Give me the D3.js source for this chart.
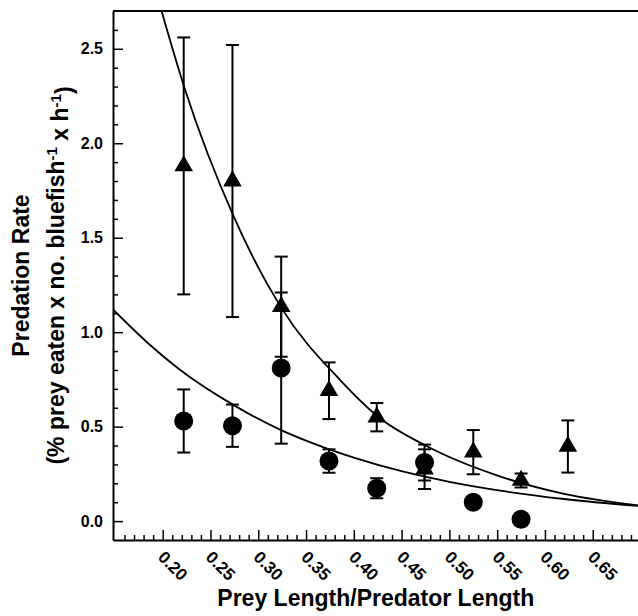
<!DOCTYPE html>
<html>
<head>
<meta charset="utf-8">
<script src="https://cdn.jsdelivr.net/npm/d3@7"></script>
<style>
body { margin: 0; background: #fff; }
text { font-family: "Liberation Sans", Arial, Helvetica, sans-serif; font-weight: bold; fill: #000; }
</style>
</head>
<body>
<div id="main"></div>
<script>
// Datos: razón de longitudes presa/depredador
var ratio = [0.222, 0.273, 0.324, 0.374, 0.424, 0.474, 0.525, 0.575, 0.624];

// Triángulos
var triRate = [1.88, 1.80, 1.135, 0.69, 0.55, 0.275, 0.365, 0.215, 0.395];
var triErr = [0.68, 0.72, 0.265, 0.15, 0.075, 0.105, 0.117, 0.037, 0.138];

// Círculos
var circRatio = [0.222, 0.273, 0.324, 0.374, 0.424, 0.474, 0.525, 0.575];
var circRate = [0.53, 0.505, 0.81, 0.318, 0.174, 0.31, 0.10, 0.01];
var circErr = [0.167, 0.112, 0.40, 0.062, 0.053, 0.095, 0, 0];

// Curvas de ajuste
var triFitX = [0.196, 0.223, 0.2745, 0.324, 0.386, 0.426, 0.475, 0.555, 0.62, 0.698];
var triFitY = [2.75, 2.29, 1.61, 1.13, 0.745, 0.55, 0.40, 0.233, 0.144, 0.083];
var circFitX = [0.148, 0.185, 0.217, 0.2756, 0.3216, 0.356, 0.40, 0.45, 0.50, 0.555, 0.62, 0.698];
var circFitY = [1.12, 0.94, 0.805, 0.61, 0.487, 0.414, 0.336, 0.264, 0.208, 0.16, 0.117, 0.08];

// Marcas de los ejes
var xMajor = [0.20, 0.25, 0.30, 0.35, 0.40, 0.45, 0.50, 0.55, 0.60, 0.65];
var yMajor = [0.0, 0.5, 1.0, 1.5, 2.0, 2.5];

var totalWidth = 638;
var totalHeight = 616;
var plotLeft = 113;
var plotRight = 638.6;
var plotTop = 11;
var plotBottom = 540;

var svg = d3.select("#main").append("svg")
	.attr("width", totalWidth)
	.attr("height", totalHeight);

var x = d3.scaleLinear().domain([0.148, 0.698]).range([plotLeft, plotRight]);
var y = d3.scaleLinear().domain([-0.1, 2.7]).range([plotBottom, plotTop]);

var xMinor = d3.range(16, 70).filter(function(d) { return d % 5 !== 0; })
	.map(function(d) { return d / 100; });
var yMinor = d3.range(1, 27).filter(function(d) { return d % 5 !== 0; })
	.map(function(d) { return d / 10; });

svg.append("defs").append("clipPath").attr("id", "plot")
	.append("rect")
	.attr("x", plotLeft).attr("y", plotTop)
	.attr("width", plotRight - plotLeft).attr("height", plotBottom - plotTop);

// Eje Y
svg.append("g").attr("transform", "translate(" + plotLeft + ",0)")
	.call(d3.axisLeft(y).tickValues(yMinor).tickSize(-5).tickSizeOuter(0).tickFormat(""));
svg.append("g").attr("transform", "translate(" + plotLeft + ",0)")
	.call(d3.axisLeft(y).tickValues(yMajor).tickSize(-10).tickSizeOuter(0).tickPadding(10).tickFormat(d3.format(".1f")))
	.call(function(g) { g.select(".domain").remove(); })
	.selectAll("text").style("font-size", "16px");

// Eje X
svg.append("g").attr("transform", "translate(0," + plotBottom + ")")
	.call(d3.axisBottom(x).tickValues(xMinor).tickSize(-5).tickSizeOuter(0).tickFormat(""));
svg.append("g").attr("transform", "translate(0," + plotBottom + ")")
	.call(d3.axisBottom(x).tickValues(xMajor).tickSize(-10).tickSizeOuter(0).tickFormat(d3.format(".2f")))
	.call(function(g) { g.select(".domain").remove(); })
	.selectAll("text")
	.style("font-size", "17px")
	.attr("text-anchor", "start")
	.attr("x", 0).attr("y", 0).attr("dy", "0.35em")
	.attr("transform", "translate(-2,14) rotate(45)");

svg.selectAll(".domain").attr("stroke-width", 2);
svg.selectAll(".tick line").attr("stroke-width", 1.5);

// Línea superior del marco
svg.append("line")
	.attr("x1", plotLeft).attr("x2", plotRight)
	.attr("y1", plotTop).attr("y2", plotTop)
	.attr("stroke", "#000").attr("stroke-width", 2);

// Curvas de ajuste
var line = d3.line()
	.x(function(d) { return x(d[0]); })
	.y(function(d) { return y(d[1]); })
	.curve(d3.curveMonotoneX);

svg.append("path")
	.datum(d3.zip(triFitX, triFitY))
	.attr("clip-path", "url(#plot)")
	.attr("d", line)
	.attr("fill", "none").attr("stroke", "#000").attr("stroke-width", 1.8);
svg.append("path")
	.datum(d3.zip(circFitX, circFitY))
	.attr("clip-path", "url(#plot)")
	.attr("d", line)
	.attr("fill", "none").attr("stroke", "#000").attr("stroke-width", 1.8);

function dibujarBarras(xs, vals, errs) {
	var g = svg.append("g").attr("stroke", "#000").attr("stroke-width", 2);
	xs.forEach(function(xv, i) {
		if (!errs[i]) return;
		var cx = x(xv);
		var y1 = y(vals[i] + errs[i]);
		var y2 = y(vals[i] - errs[i]);
		g.append("line").attr("x1", cx).attr("x2", cx).attr("y1", y1).attr("y2", y2);
		g.append("line").attr("x1", cx - 6.5).attr("x2", cx + 6.5).attr("y1", y1).attr("y2", y1);
		g.append("line").attr("x1", cx - 6.5).attr("x2", cx + 6.5).attr("y1", y2).attr("y2", y2);
	});
}

dibujarBarras(ratio, triRate, triErr);
dibujarBarras(circRatio, circRate, circErr);

svg.append("g").selectAll("path")
	.data(d3.zip(ratio, triRate))
	.enter().append("path")
	.attr("d", d3.symbol().type(d3.symbolTriangle).size(150))
	.attr("transform", function(d) { return "translate(" + x(d[0]) + "," + y(d[1]) + ")"; })
	.attr("fill", "#000");

svg.append("g").selectAll("circle")
	.data(d3.zip(circRatio, circRate))
	.enter().append("circle")
	.attr("cx", function(d) { return x(d[0]); })
	.attr("cy", function(d) { return y(d[1]); })
	.attr("r", 9.5)
	.attr("fill", "#000");

// Títulos
svg.append("text")
	.attr("x", (plotLeft + plotRight) / 2).attr("y", 606)
	.attr("text-anchor", "middle")
	.style("font-size", "23px")
	.text("Prey Length/Predator Length");

svg.append("text")
	.attr("transform", "translate(29," + (plotTop + plotBottom) / 2 + ") rotate(-90)")
	.attr("text-anchor", "middle")
	.style("font-size", "23px")
	.text("Predation Rate");

var t2 = svg.append("text")
	.attr("transform", "translate(64," + (plotTop + plotBottom) / 2 + ") rotate(-90)")
	.attr("text-anchor", "middle")
	.style("font-size", "23px");
t2.append("tspan").text("(% prey eaten x no. bluefish");
t2.append("tspan").attr("dy", "-0.5em").style("font-size", "15px").text("-1");
t2.append("tspan").attr("dy", "0.5em").text(" x h");
t2.append("tspan").attr("dy", "-0.5em").style("font-size", "15px").text("-1");
t2.append("tspan").attr("dy", "0.5em").text(")");
</script>
</body>
</html>
